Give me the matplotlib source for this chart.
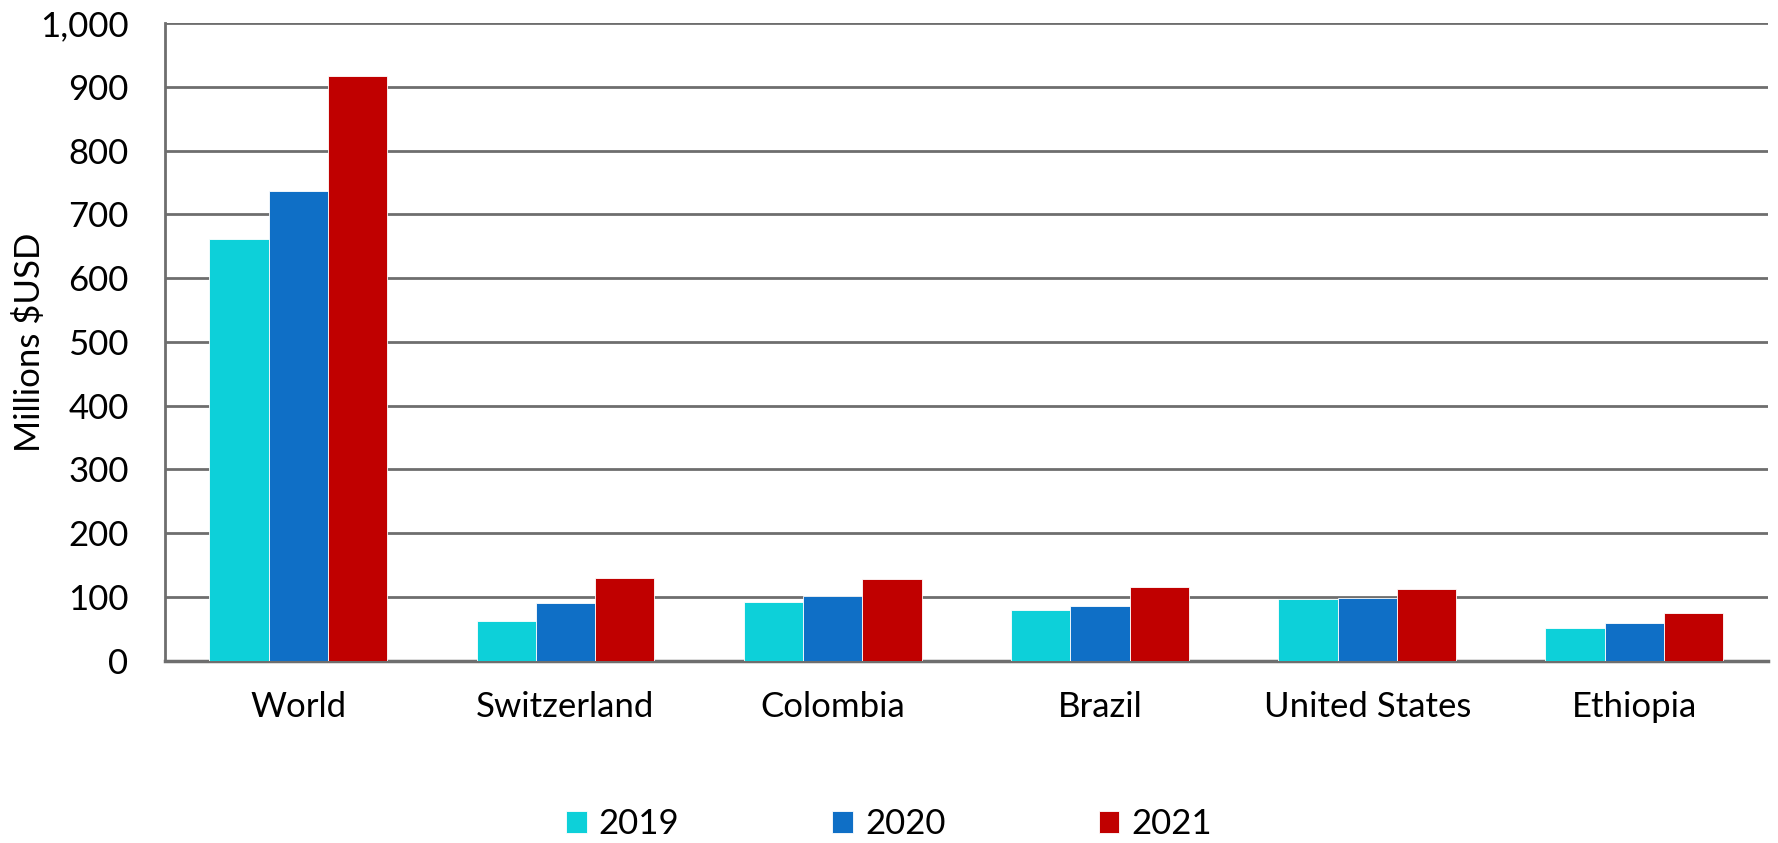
import matplotlib
matplotlib.use("Agg")
import matplotlib.pyplot as plt
import numpy as np

# ── Datos ────────────────────────────────────────────────────────────────────
categories = ["World", "Switzerland", "Colombia", "Brazil", "United States", "Ethiopia"]
years = ["2019", "2020", "2021"]
values_2019 = [661, 62, 92, 80, 96, 52]
values_2020 = [737, 91, 102, 86, 99, 59]
values_2021 = [917, 130, 128, 115, 112, 75]
y_ticks = [0, 100, 200, 300, 400, 500, 600, 700, 800, 900, 1000]

COLORS = ["#0DD0D9", "#0F6FC6", "#C00000"]
GRID = "#6E6E6E"
FS = 25

plt.rcParams["font.family"] = ["Lato", "DejaVu Sans"]

fig = plt.figure(figsize=(17.78, 8.43), dpi=100, facecolor="white")
ax = fig.add_axes([0.0926, 0.2163, 0.9018, 0.7561])

x = np.arange(len(categories))
w = 0.222
series = [values_2019, values_2020, values_2021]
for i, (vals, color, label) in enumerate(zip(series, COLORS, years)):
    ax.bar(x + (i - 1) * w, vals, width=w, color=color, label=label,
           edgecolor="white", linewidth=0.6, zorder=3)

ax.set_xlim(-0.5, len(categories) - 0.5)
ax.set_ylim(0, 1000)
ax.set_yticks(y_ticks)
ax.set_yticklabels([f"{t:,}" for t in y_ticks])
ax.set_xticks(x)
ax.set_xticklabels(categories)
ax.tick_params(axis="both", length=0, labelsize=FS, colors="black")
ax.tick_params(axis="y", pad=26)
ax.tick_params(axis="x", pad=22)

ax.yaxis.grid(True, color=GRID, linewidth=2, zorder=0)
ax.set_axisbelow(True)
ax.spines[["top", "right"]].set_visible(False)
ax.spines["left"].set_color(GRID)
ax.spines["left"].set_linewidth(2)
ax.spines["bottom"].set_color(GRID)
ax.spines["bottom"].set_linewidth(2.5)

ax.set_ylabel("Millions $USD", fontsize=FS)
ax.yaxis.set_label_coords(-0.074, 0.5)

fig.legend(loc="center", bbox_to_anchor=(0.5, 0.022), ncol=3,
           frameon=False, fontsize=FS, handlelength=0.6, handleheight=0.6,
           handletextpad=0.35, columnspacing=4.4)

fig.savefig("out.png", dpi=100, facecolor="white")
plt.close(fig)
